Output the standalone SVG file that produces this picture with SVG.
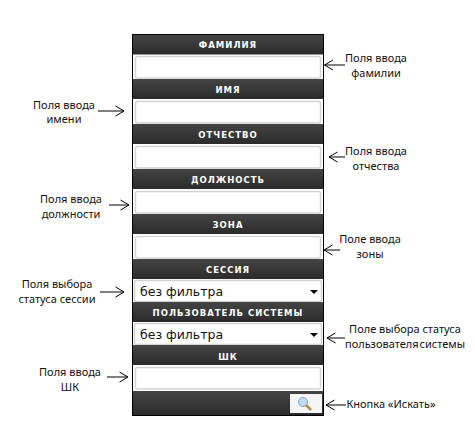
<svg xmlns="http://www.w3.org/2000/svg" width="475" height="438" viewBox="0 0 475 438">
<style>
.h{font:bold 8.500px "DejaVu Sans",sans-serif;letter-spacing:1px;fill:#fff;text-anchor:middle}
.i{fill:#fff;stroke:#d4d4d4;stroke-width:1.500}
.l{font:11px "Noto Sans","DejaVu Sans",sans-serif;fill:#111;text-anchor:middle}
.s{font:12.500px "DejaVu Sans",sans-serif;fill:#111}
.a{fill:none;stroke:#000;stroke-width:1}
</style>
<defs>
<linearGradient id="g" x1="0" y1="0" x2="0" y2="1"><stop offset="0" stop-color="#444"/><stop offset="1" stop-color="#2b2b2b"/></linearGradient>
<marker id="ah" viewBox="0 0 10 12" refX="9.500" refY="6" markerWidth="10" markerHeight="12" markerUnits="userSpaceOnUse" orient="auto"><path d="M1 1L9.500 6L1 11" fill="none" stroke="#000"/></marker>
</defs>
<rect id="panel" x="132.500" y="34.500" width="191" height="381" fill="#fff" stroke="#000"/>
<g id="familia"><rect x="133" y="35" width="190" height="19.500" fill="url(#g)"/><text class="h" x="228" y="48">ФАМИЛИЯ</text><rect class="i" x="135.500" y="56.500" width="185" height="21.500" rx="2"/></g>
<g id="imya"><rect x="133" y="79" width="190" height="20" fill="url(#g)"/><text class="h" x="228" y="93">ИМЯ</text><rect class="i" x="135.500" y="101.500" width="185" height="21.500" rx="2"/></g>
<g id="otchestvo"><rect x="133" y="124" width="190" height="20" fill="url(#g)"/><text class="h" x="228" y="138">ОТЧЕСТВО</text><rect class="i" x="135.500" y="146.500" width="185" height="21.500" rx="2"/></g>
<g id="dolzhnost"><rect x="133" y="169" width="190" height="20" fill="url(#g)"/><text class="h" x="228" y="183">ДОЛЖНОСТЬ</text><rect class="i" x="135.500" y="191.500" width="185" height="21.500" rx="2"/></g>
<g id="zona"><rect x="133" y="214" width="190" height="20" fill="url(#g)"/><text class="h" x="228" y="228">ЗОНА</text><rect class="i" x="135.500" y="236.500" width="185" height="21.500" rx="2"/></g>
<g id="sessiya"><rect x="133" y="259" width="190" height="20" fill="url(#g)"/><text class="h" x="228" y="273">СЕССИЯ</text><rect class="i" x="134.500" y="280.500" width="187" height="21" rx="2"/><text class="s" x="140" y="296">без фильтра</text><path d="M310 290h8l-4 4z" fill="#000"/></g>
<g id="polzovatel"><rect x="133" y="302" width="190" height="20" fill="url(#g)"/><text class="h" x="228" y="316">ПОЛЬЗОВАТЕЛЬ СИСТЕМЫ</text><rect class="i" x="134.500" y="323.500" width="187" height="21" rx="2"/><text class="s" x="140" y="339">без фильтра</text><path d="M310 333h8l-4 4z" fill="#000"/></g>
<g id="shk"><rect x="133" y="345" width="190" height="20" fill="url(#g)"/><text class="h" x="228" y="360">ШК</text><rect class="i" x="135.500" y="367.500" width="185" height="21.500" rx="2"/></g>
<g id="search"><rect x="133" y="391" width="190" height="24" fill="url(#g)"/><rect x="290" y="394" width="32" height="19" fill="#f5f5f5"/><circle cx="303" cy="402" r="4.500" fill="#bfdcf5" stroke="#7fa6c8"/><path d="M306 405l5 5" stroke="#b58a4a" stroke-width="2.500"/></g>
<g id="connectors">
<path class="a" marker-end="url(#ah)" d="M345 65H324.500"/>
<path class="a" marker-end="url(#ah)" d="M98 111H124"/>
<path class="a" marker-end="url(#ah)" d="M345 157H329"/>
<path class="a" marker-end="url(#ah)" d="M109 205H129"/>
<path class="a" marker-end="url(#ah)" d="M340 250H324"/>
<path class="a" marker-end="url(#ah)" d="M100 292H124"/>
<path class="a" marker-end="url(#ah)" d="M345 338H327"/>
<path class="a" marker-end="url(#ah)" d="M107 377H128"/>
<path class="a" marker-end="url(#ah)" d="M346 405H326"/>
</g>
<g id="labels">
<text class="l" x="376" y="62">Поля ввода</text><text class="l" x="376" y="77">фамилии</text>
<text class="l" x="64" y="109">Поля ввода</text><text class="l" x="64" y="123">имени</text>
<text class="l" x="376" y="155">Поля ввода</text><text class="l" x="376" y="170">отчества</text>
<text class="l" x="71" y="203">Поля ввода</text><text class="l" x="71" y="218">должности</text>
<text class="l" x="370" y="243">Поле ввода</text><text class="l" x="370" y="258">зоны</text>
<text class="l" x="57" y="288">Поля выбора</text><text class="l" x="57" y="303">статуса сессии</text>
<text class="l" x="405" y="333">Поле выбора статуса</text><text class="l" x="405" y="348" word-spacing="-2">пользователя системы</text>
<text class="l" x="70" y="376">Поля ввода</text><text class="l" x="70" y="391">ШК</text>
<text class="l" x="391" y="408">Кнопка «Искать»</text>
</g>
</svg>
